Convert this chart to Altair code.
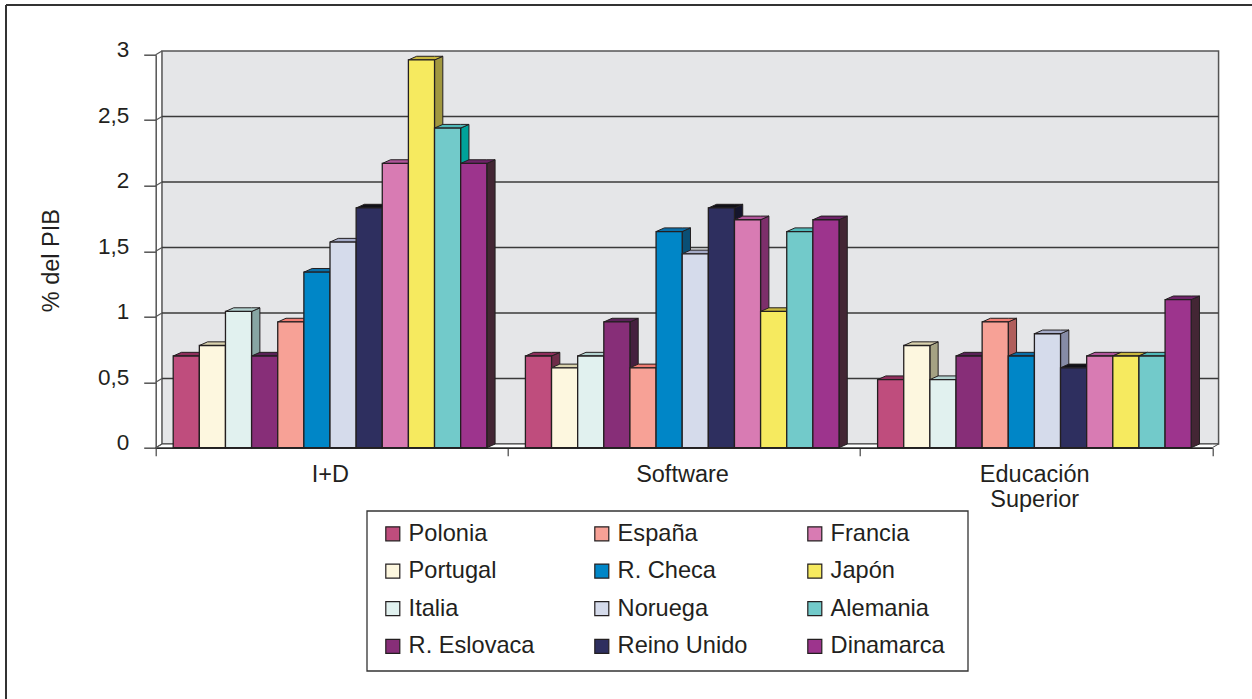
import altair as alt
import pandas as pd

# Spending as % of GDP, by country and area
paises = ["Polonia", "Portugal", "Italia", "R. Eslovaca", "España", "R. Checa",
          "Noruega", "Reino Unido", "Francia", "Japón", "Alemania", "Dinamarca"]
areas = ["I+D", "Software", "Educación\nSuperior"]
id_vals = [0.70, 0.78, 1.04, 0.70, 0.96, 1.34, 1.57, 1.83, 2.17, 2.96, 2.44, 2.17]
software_vals = [0.70, 0.61, 0.70, 0.96, 0.61, 1.65, 1.48, 1.83, 1.74, 1.04, 1.65, 1.74]
educacion_vals = [0.52, 0.78, 0.52, 0.70, 0.96, 0.70, 0.87, 0.61, 0.70, 0.70, 0.70, 1.13]
y_ticks = [0, 0.5, 1, 1.5, 2, 2.5, 3]

# Face colours of each bar
frente = ["#bf4d7d", "#fdf7df", "#e1f1ef", "#872e78", "#f7a196", "#0086c7",
          "#d5dbeb", "#2e2f5f", "#d87bb3", "#f6ea5f", "#72caca", "#9d348d"]
techo = ["#8f2e5c", "#d9d2ae", "#b3d3d0", "#5a2258", "#ef7c72", "#0a6fa8",
         "#a5abc8", "#111118", "#b0559a", "#c9b83e", "#4fb8b8", "#6f2369"]
lateral = ["#6e2c48", "#a5a283", "#87a5a3", "#45203f", "#b05e5c", "#0a4f75",
           "#868ba6", "#15152c", "#7d2f6b", "#a1983f", "#00a29a", "#432634"]

# Bars are placed in category units, with a fake perspective depth
MARGEN, ANCHO = 0.0497, 0.0742
DX_BAR, DY_BAR = 0.0235, 0.028
DX_MURO, DY_MURO = 0.0178, 0.028

W, H = 1056.6, 393.0
LEFT, TOP = 155.7, 54.7

frentes, caras = [], []
series = [id_vals, software_vals, educacion_vals]
for a, vals in enumerate(series):
    for j, (p, v) in enumerate(zip(paises, vals)):
        x0 = a + MARGEN + j * ANCHO
        x1 = x0 + ANCHO
        frentes.append(dict(pais=p, x0=x0, x1=x1, v=v, base=0))
        bar = f"{a}-{j}"
        # top face as an area whose thickness opens and closes
        for x, yy, yy2 in [
            (x0, v, v), (x0 + DX_BAR, v + DY_BAR, v),
            (x1, v + DY_BAR, v), (x1 + DX_BAR, v + DY_BAR, v + DY_BAR),
        ]:
            caras.append(dict(cara="techo", bar=bar, x=x, y=yy, y2=yy2, col=techo[j]))
        # side face, a slanted strip to the right of the front
        for x, yy, yy2 in [(x1, v, 0), (x1 + DX_BAR, v + DY_BAR, DY_BAR)]:
            caras.append(dict(cara="lateral", bar=bar, x=x, y=yy, y2=yy2, col=lateral[j]))

df_front = pd.DataFrame(frentes)
df_caras = pd.DataFrame(caras)

x_scale = alt.Scale(domain=[0, 3], range=[0, W], nice=False, zero=False)
y_scale = alt.Scale(domain=[0, 3], range=[H, 0], nice=False)
x_axis = alt.Axis(values=[0, 1, 2, 3], labels=False, tickSize=8, tickColor="#444444",
                  domainColor="#222222", domainWidth=1.5, grid=False, tickWidth=1.2)
y_axis = alt.Axis(values=y_ticks, tickSize=12, tickColor="#555555", tickWidth=1.5,
                  domainColor="#555555", domainWidth=1.5, grid=False,
                  labelExpr="replace(format(datum.value, '.1~f'), '.', ',')",
                  labelFont="Liberation Sans", labelFontSize=22.5, labelColor="#231f20",
                  labelPadding=15, labelOffset=-5,
                  titleFont="Liberation Sans", titleFontSize=23.5, titleFontWeight="normal",
                  titleColor="#231f20", titleX=-92, titleY=205.5)

# Back wall, floor and gridlines
muro = pd.DataFrame([dict(x=DX_MURO, x2=3 + DX_MURO, y=DY_MURO, y2=3 + DY_MURO)])
capa_muro = alt.Chart(muro).mark_rect(fill="#e5e6e8", stroke="#555555", strokeWidth=1.5).encode(
    x=alt.X("x:Q", scale=x_scale, axis=x_axis, title=None),
    x2="x2:Q",
    y=alt.Y("y:Q", scale=y_scale, axis=y_axis, title="% del PIB"),
    y2="y2:Q",
)
suelo = pd.DataFrame([
    dict(x=0, y=0, y2=0),
    dict(x=DX_MURO, y=DY_MURO, y2=0),
    dict(x=3, y=DY_MURO, y2=0),
    dict(x=3 + DX_MURO, y=DY_MURO, y2=DY_MURO),
])
capa_suelo = alt.Chart(suelo).mark_area(fill="#ffffff", stroke="#444444", strokeWidth=1).encode(
    x=alt.X("x:Q", scale=x_scale), y=alt.Y("y:Q", scale=y_scale, stack=None), y2="y2:Q"
)
rejilla = pd.DataFrame([dict(x=DX_MURO, x2=3 + DX_MURO, y=v + DY_MURO) for v in y_ticks[1:-1]])
capa_rejilla = alt.Chart(rejilla).mark_rule(color="#3a3a3a", strokeWidth=1.5).encode(
    x=alt.X("x:Q", scale=x_scale), x2="x2:Q", y=alt.Y("y:Q", scale=y_scale)
)
# Short slanted joins between the value axis and the wall
uniones = pd.DataFrame(
    [dict(v=v, k=k, x=k * DX_MURO, y=v + k * DY_MURO) for v in y_ticks for k in (0, 1)]
)
capa_uniones = alt.Chart(uniones).mark_line(color="#555555", strokeWidth=1.2).encode(
    x=alt.X("x:Q", scale=x_scale), y=alt.Y("y:Q", scale=y_scale), detail="v:N", order="k:Q"
)


def capa_cara(nombre):
    return alt.Chart(df_caras[df_caras.cara == nombre]).mark_area(
        stroke="#231f20", strokeWidth=1, strokeJoin="miter"
    ).encode(
        x=alt.X("x:Q", scale=x_scale),
        y=alt.Y("y:Q", scale=y_scale, stack=None),
        y2="y2:Q",
        fill=alt.Fill("col:N", scale=None),
        detail="bar:N",
    )


capa_frente = alt.Chart(df_front).mark_rect(stroke="#231f20", strokeWidth=1.3).encode(
    x=alt.X("x0:Q", scale=x_scale),
    x2="x1:Q",
    y=alt.Y("v:Q", scale=y_scale),
    y2="base:Q",
    fill=alt.Fill(
        "pais:N",
        scale=alt.Scale(domain=paises, range=frente),
        legend=alt.Legend(
            title=None, orient="none", legendX=225.3, legendY=467, columns=3,
            padding=0,
            symbolType="square", symbolSize=196, symbolStrokeColor="#333333",
            symbolStrokeWidth=1.2, symbolOpacity=1,
            labelFont="Liberation Sans", labelFontSize=23.6, labelColor="#231f20",
            labelLimit=220, labelOffset=4, columnPadding=55, rowPadding=12.6,
            gridAlign="each",
        ),
    ),
)

# Category names under the axis
etiquetas = pd.DataFrame([dict(x=i + 0.5, t=t) for i, t in enumerate(areas)])
capa_etiquetas = alt.Chart(etiquetas).mark_text(
    font="Liberation Sans", fontSize=23.5, color="#231f20", lineBreak="\n",
    baseline="top", lineHeight=25, dx=-1.5,
).encode(x=alt.X("x:Q", scale=x_scale), y=alt.value(H + 15), text="t:N")

# Page frame, open to the right, and the box around the legend
marco = pd.DataFrame([dict(x=0)])
capa_marco_izq = alt.Chart(marco).mark_rule(color="#333333", strokeWidth=2).encode(
    x=alt.value(6 - LEFT), y=alt.value(5 - TOP), y2=alt.value(699 - TOP)
)
capa_marco_sup = alt.Chart(marco).mark_rule(color="#333333", strokeWidth=2).encode(
    x=alt.value(6 - LEFT), x2=alt.value(1252 - LEFT), y=alt.value(5 - TOP)
)
capa_caja = alt.Chart(marco).mark_rect(fill="#ffffff", stroke="#333333", strokeWidth=1.3).encode(
    x=alt.value(367 - LEFT), x2=alt.value(968 - LEFT),
    y=alt.value(511 - TOP), y2=alt.value(671 - TOP),
)

chart = alt.layer(
    capa_marco_izq, capa_marco_sup, capa_caja, capa_muro, capa_rejilla, capa_suelo, capa_uniones,
    capa_cara("lateral"), capa_cara("techo"), capa_frente, capa_etiquetas,
).properties(
    width=W, height=H,
    autosize=alt.AutoSizeParams(type="none"),
    padding={"left": LEFT, "top": TOP, "right": 1252 - LEFT - W, "bottom": 699 - TOP - H},
    background="#ffffff",
).configure_view(stroke=None)

chart.save("out.html", embed_options={"renderer": "svg", "actions": False})
